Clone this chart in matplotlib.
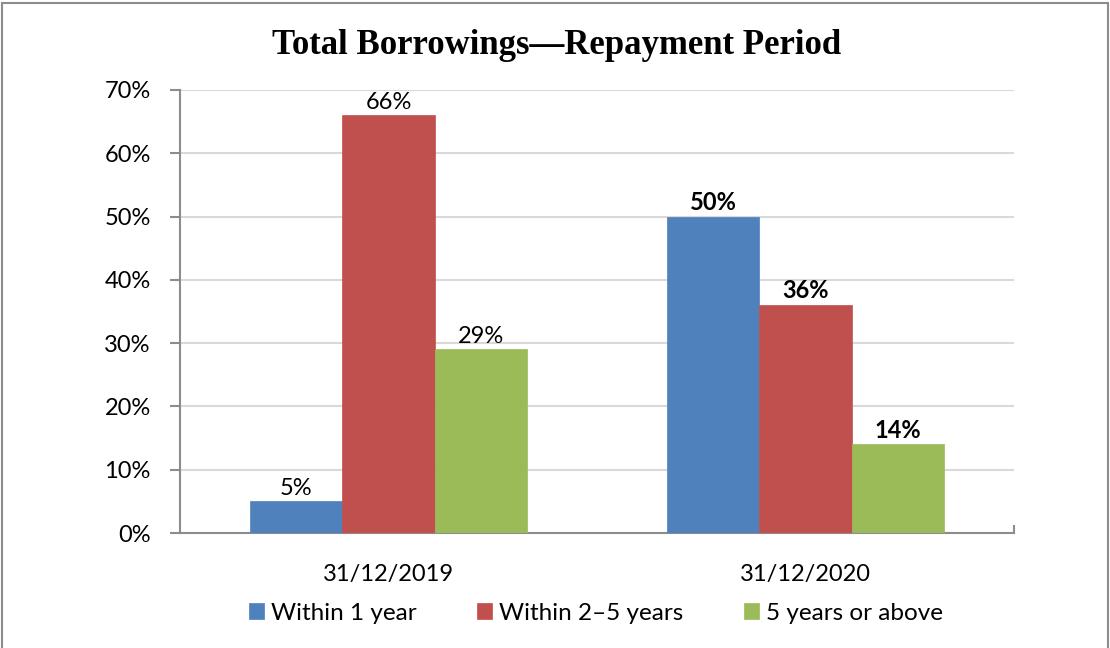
import numpy as np
import matplotlib
matplotlib.use("Agg")
import matplotlib.pyplot as plt
from matplotlib.patches import Rectangle

# ── Data ──────────────────────────────────────────────────────────────────────
periods = ["31/12/2019", "31/12/2020"]
series_names = ["Within 1 year", "Within 2\u20135 years", "5 years or above"]
within_1 = [5, 50]
within_2_5 = [66, 36]
above_5 = [29, 14]
y_ticks = [0, 10, 20, 30, 40, 50, 60, 70]

colors = ["#4F81BD", "#C0504D", "#9BBB59"]
plt.rcParams["font.family"] = ["Lato", "DejaVu Sans"]

W, H = 1110, 648
fig = plt.figure(figsize=(W / 100, H / 100), dpi=100)
ax = fig.add_axes([180 / W, 1 - 533 / H, (1014 - 180) / W, (533 - 90) / H])

# gray frame around the chart
fig.patches.append(Rectangle((2 / W, -0.02), (1108 - 2) / W, 1.02 - 3 / H,
                             transform=fig.transFigure, fill=False,
                             edgecolor="#8c8c8c", linewidth=1.5))

x = np.arange(len(periods))
width = 0.222
values = [within_1, within_2_5, above_5]
for i, (vals, name, col) in enumerate(zip(values, series_names, colors)):
    bars = ax.bar(x + (i - 1) * width, vals, width, color=col, label=name,
                  edgecolor=col, linewidth=0.5, zorder=3)
    for j, b in enumerate(bars):
        ax.annotate(f"{vals[j]}%", (b.get_x() + b.get_width() / 2, b.get_height()),
                    xytext=(0, 2), textcoords="offset points", ha="center",
                    va="bottom", fontsize=17,
                    fontweight="bold" if j == 1 else "normal", color="black")

ax.set_xlim(-0.5, 1.5)
ax.set_ylim(0, 70)
ax.set_yticks(y_ticks)
ax.set_yticklabels([f"{v}%" for v in y_ticks], fontsize=17)
ax.set_xticks(x)
ax.set_xticklabels(periods, fontsize=17)
ax.tick_params(axis="x", length=0, pad=22)
ax.set_xticks([0, 1.5], minor=True)
ax.tick_params(axis="x", which="minor", direction="in", length=6,
               color="#8c8c8c", width=1.5)
ax.tick_params(axis="y", direction="out", length=7, color="#8c8c8c",
               width=1.5, pad=14)

ax.yaxis.grid(True, color="#d9d9d9", linewidth=1.5, zorder=0)
ax.set_axisbelow(True)
for s in ["top", "right"]:
    ax.spines[s].set_visible(False)
for s in ["left", "bottom"]:
    ax.spines[s].set_color("#8c8c8c")
    ax.spines[s].set_linewidth(1.5)

fig.text(557 / W, 1 - 46 / H, "Total Borrowings\u2014Repayment Period",
         ha="center", va="center", fontsize=25, fontweight="bold",
         family="Liberation Serif")

fig.legend(loc="center", bbox_to_anchor=(596 / W, 1 - 613 / H), ncol=3,
           frameon=False, fontsize=17.5, handlelength=0.6, handleheight=0.6,
           handletextpad=0.3, columnspacing=2.5)

fig.savefig("out.png", dpi=100)
